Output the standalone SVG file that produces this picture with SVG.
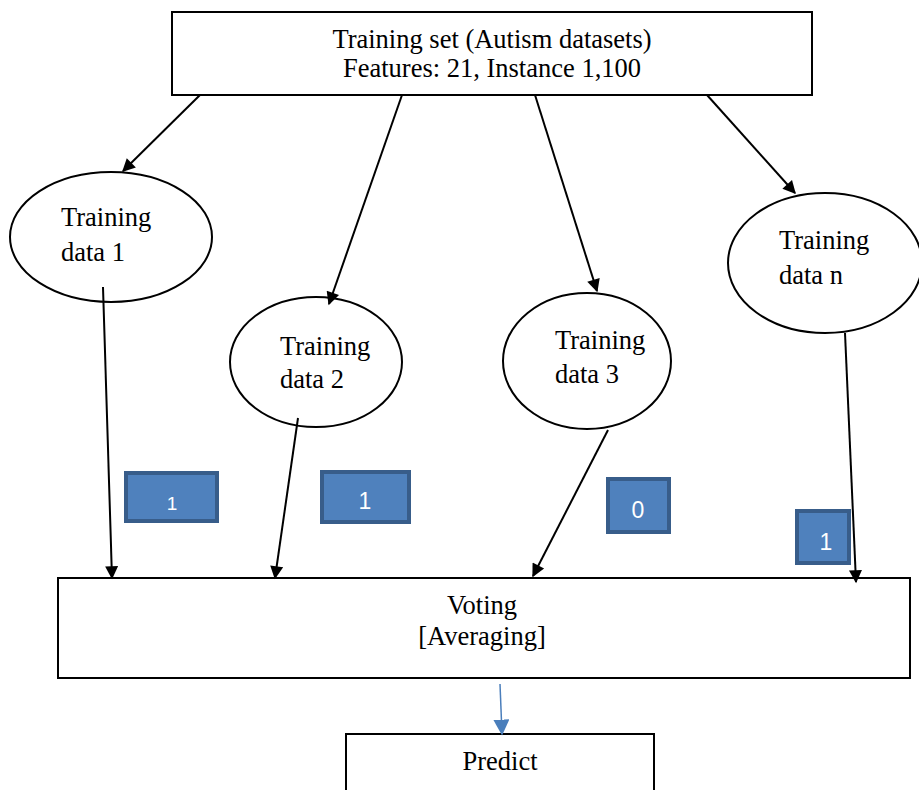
<svg xmlns="http://www.w3.org/2000/svg" width="919" height="790" viewBox="0 0 919 790">
<style>
.box{fill:#fff;stroke:#000;stroke-width:2}
.ell{fill:#fff;stroke:#000;stroke-width:2}
.t{font-family:"Liberation Serif","Times New Roman",serif;font-size:26.5px;fill:#000}
.c{stroke:#000;stroke-width:2;fill:none}
.vb{fill:#4f81bd;stroke:#385d8a;stroke-width:4}
.vt{font-family:"Liberation Sans",Arial,sans-serif;font-size:23px;fill:#fff;text-anchor:middle}
</style>
<defs>
<marker id="ah" viewBox="0 0 10 10" refX="9" refY="5" markerWidth="16" markerHeight="13" markerUnits="userSpaceOnUse" orient="auto"><path d="M0,0 L10,5 L0,10 z" fill="#000"/></marker>
<marker id="ahb" viewBox="0 0 10 10" refX="9" refY="5" markerWidth="16" markerHeight="16" markerUnits="userSpaceOnUse" orient="auto"><path d="M0,0 L10,5 L0,10 z" fill="#4a7ebb"/></marker>
</defs>
<rect width="919" height="790" fill="#fff"/>
<g id="training-set">
<rect class="box" x="172" y="12" width="640" height="83"/>
<text class="t" x="492" y="48" text-anchor="middle">Training set (Autism datasets)</text>
<text class="t" x="492" y="77" text-anchor="middle">Features: 21, Instance 1,100</text>
</g>
<g id="td1">
<ellipse class="ell" cx="111" cy="237" rx="101" ry="65"/>
<text class="t" x="61" y="226">Training</text>
<text class="t" x="61" y="261">data 1</text>
</g>
<g id="td2">
<ellipse class="ell" cx="316" cy="362" rx="86" ry="65"/>
<text class="t" x="280" y="355">Training</text>
<text class="t" x="280" y="388">data 2</text>
</g>
<g id="td3">
<ellipse class="ell" cx="587" cy="361" rx="84" ry="68"/>
<text class="t" x="555" y="349">Training</text>
<text class="t" x="555" y="383">data 3</text>
</g>
<g id="tdn">
<ellipse class="ell" cx="825" cy="263" rx="97" ry="70"/>
<text class="t" x="779" y="249">Training</text>
<text class="t" x="779" y="284">data n</text>
</g>
<g id="voting">
<rect class="box" x="58" y="578" width="852" height="100"/>
<text class="t" x="482" y="614" text-anchor="middle">Voting</text>
<text class="t" x="482" y="645" text-anchor="middle">[Averaging]</text>
</g>
<g id="predict">
<rect class="box" x="346" y="734" width="308" height="70"/>
<text class="t" x="500" y="770" text-anchor="middle">Predict</text>
</g>
<g id="votes">
<rect class="vb" x="126" y="473" width="91" height="48"/>
<text class="vt" x="172" y="510" style="font-size:19px">1</text>
<rect class="vb" x="322" y="472" width="87" height="50"/>
<text class="vt" x="365" y="509">1</text>
<rect class="vb" x="608" y="479" width="61" height="53"/>
<text class="vt" x="638" y="518">0</text>
<rect class="vb" x="797" y="511" width="52" height="52"/>
<text class="vt" x="826" y="550">1</text>
</g>
<g id="connectors">
<line class="c" x1="200" y1="95" x2="123" y2="171" marker-end="url(#ah)"/>
<line class="c" x1="402" y1="95" x2="329" y2="304" marker-end="url(#ah)"/>
<line class="c" x1="535" y1="95" x2="597" y2="291" marker-end="url(#ah)"/>
<line class="c" x1="707" y1="95" x2="795" y2="193" marker-end="url(#ah)"/>
<line class="c" x1="103" y1="287" x2="112" y2="578" marker-end="url(#ah)"/>
<line class="c" x1="298" y1="418" x2="275" y2="578" marker-end="url(#ah)"/>
<line class="c" x1="608" y1="430" x2="533" y2="576" marker-end="url(#ah)"/>
<line class="c" x1="845" y1="333" x2="856" y2="582" marker-end="url(#ah)"/>
<line x1="500" y1="684" x2="502" y2="734" stroke="#4a7ebb" stroke-width="1.5" marker-end="url(#ahb)"/>
</g>
</svg>
